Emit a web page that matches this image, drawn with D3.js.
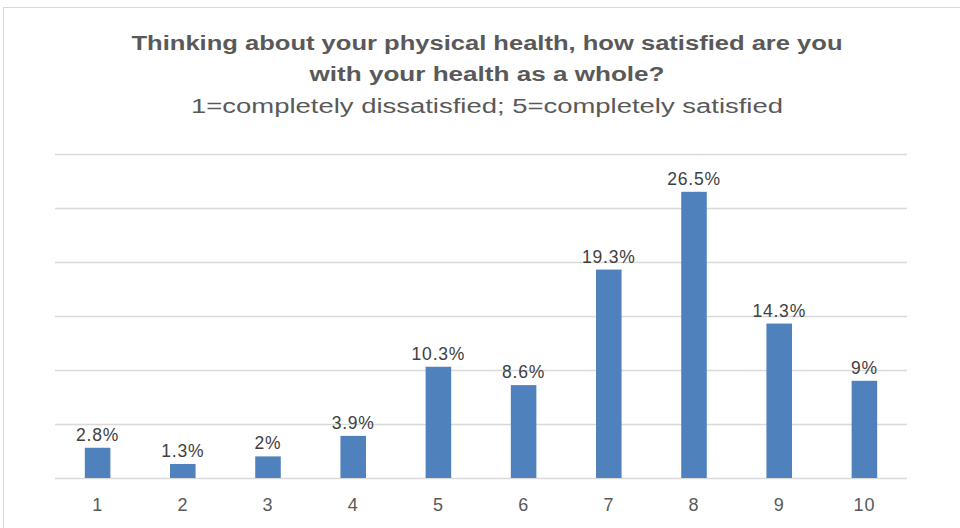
<!DOCTYPE html>
<html>
<head>
<meta charset="utf-8">
<style>
  body { margin: 0; background: #fff; }
  text { font-family: "Liberation Sans", Arial, sans-serif; }
</style>
</head>
<body>
<svg id="chart" width="960" height="528"></svg>
<script src="https://d3js.org/d3.v7.min.js"></script>
<script>
var categories = ["1", "2", "3", "4", "5", "6", "7", "8", "9", "10"];
var values = [2.8, 1.3, 2, 3.9, 10.3, 8.6, 19.3, 26.5, 14.3, 9];
var valueLabels = ["2.8%", "1.3%", "2%", "3.9%", "10.3%", "8.6%", "19.3%", "26.5%", "14.3%", "9%"];
var gridTicks = [0, 5, 10, 15, 20, 25, 30];
var titleLines = ["Thinking about your physical health, how satisfied are you", "with your health as a whole?"];
var subtitle = "1=completely dissatisfied; 5=completely satisfied";

var svg = d3.select("#chart");

// outer chart border
svg.append("rect")
  .attr("x", 3.5).attr("y", 7.5)
  .attr("width", 1000).attr("height", 600)
  .attr("fill", "#fff")
  .attr("stroke", "#d9d9d9")
  .attr("stroke-width", 1);

var x = d3.scaleBand().domain(categories).range([55, 907]).paddingInner(0.7).paddingOuter(0.35);
var y = d3.scaleLinear().domain([0, 30]).range([478, 154]);

// gridlines
svg.append("g")
  .selectAll("line")
  .data(gridTicks)
  .join("line")
  .attr("x1", 55).attr("x2", 907)
  .attr("y1", function(d) { return Math.round(y(d)) + 0.5; })
  .attr("y2", function(d) { return Math.round(y(d)) + 0.5; })
  .attr("stroke", "#d9d9d9")
  .attr("stroke-width", 1.5);

// bars
svg.append("g")
  .selectAll("rect")
  .data(values)
  .join("rect")
  .attr("x", function(d, i) { return x(categories[i]); })
  .attr("y", function(d) { return y(d); })
  .attr("width", x.bandwidth())
  .attr("height", function(d) { return y(0) - y(d); })
  .attr("fill", "#4f81bd");

// value labels
svg.append("g")
  .selectAll("text")
  .data(values)
  .join("text")
  .attr("x", function(d, i) { return x(categories[i]) + x.bandwidth() / 2; })
  .attr("y", function(d) { return y(d) - 7; })
  .attr("text-anchor", "middle")
  .attr("font-size", 17.5)
  .attr("letter-spacing", 0.8)
  .attr("fill", "#404040")
  .text(function(d, i) { return valueLabels[i]; });

// x axis
var xAxis = svg.append("g")
  .attr("transform", "translate(0,478)")
  .call(d3.axisBottom(x).tickSize(0).tickPadding(20));
xAxis.select(".domain").remove();
xAxis.selectAll("text")
  .attr("font-size", 18)
  .attr("letter-spacing", 0.8)
  .attr("fill", "#595959")
  .style("font-family", "Liberation Sans, Arial, sans-serif");

// title (reference font is wide, so stretch to its measured span)
var titleWidths = [711, 355];
svg.append("g")
  .selectAll("text")
  .data(titleLines)
  .join("text")
  .attr("x", 487)
  .attr("y", function(d, i) { return 50 + i * 31; })
  .attr("text-anchor", "middle")
  .attr("font-size", 20)
  .attr("font-weight", "bold")
  .attr("fill", "#595959")
  .attr("textLength", function(d, i) { return titleWidths[i]; })
  .attr("lengthAdjust", "spacingAndGlyphs")
  .text(function(d) { return d; });

svg.append("text")
  .attr("x", 487)
  .attr("y", 113)
  .attr("text-anchor", "middle")
  .attr("font-size", 20)
  .attr("fill", "#595959")
  .attr("textLength", 592)
  .attr("lengthAdjust", "spacingAndGlyphs")
  .text(subtitle);
</script>
</body>
</html>
